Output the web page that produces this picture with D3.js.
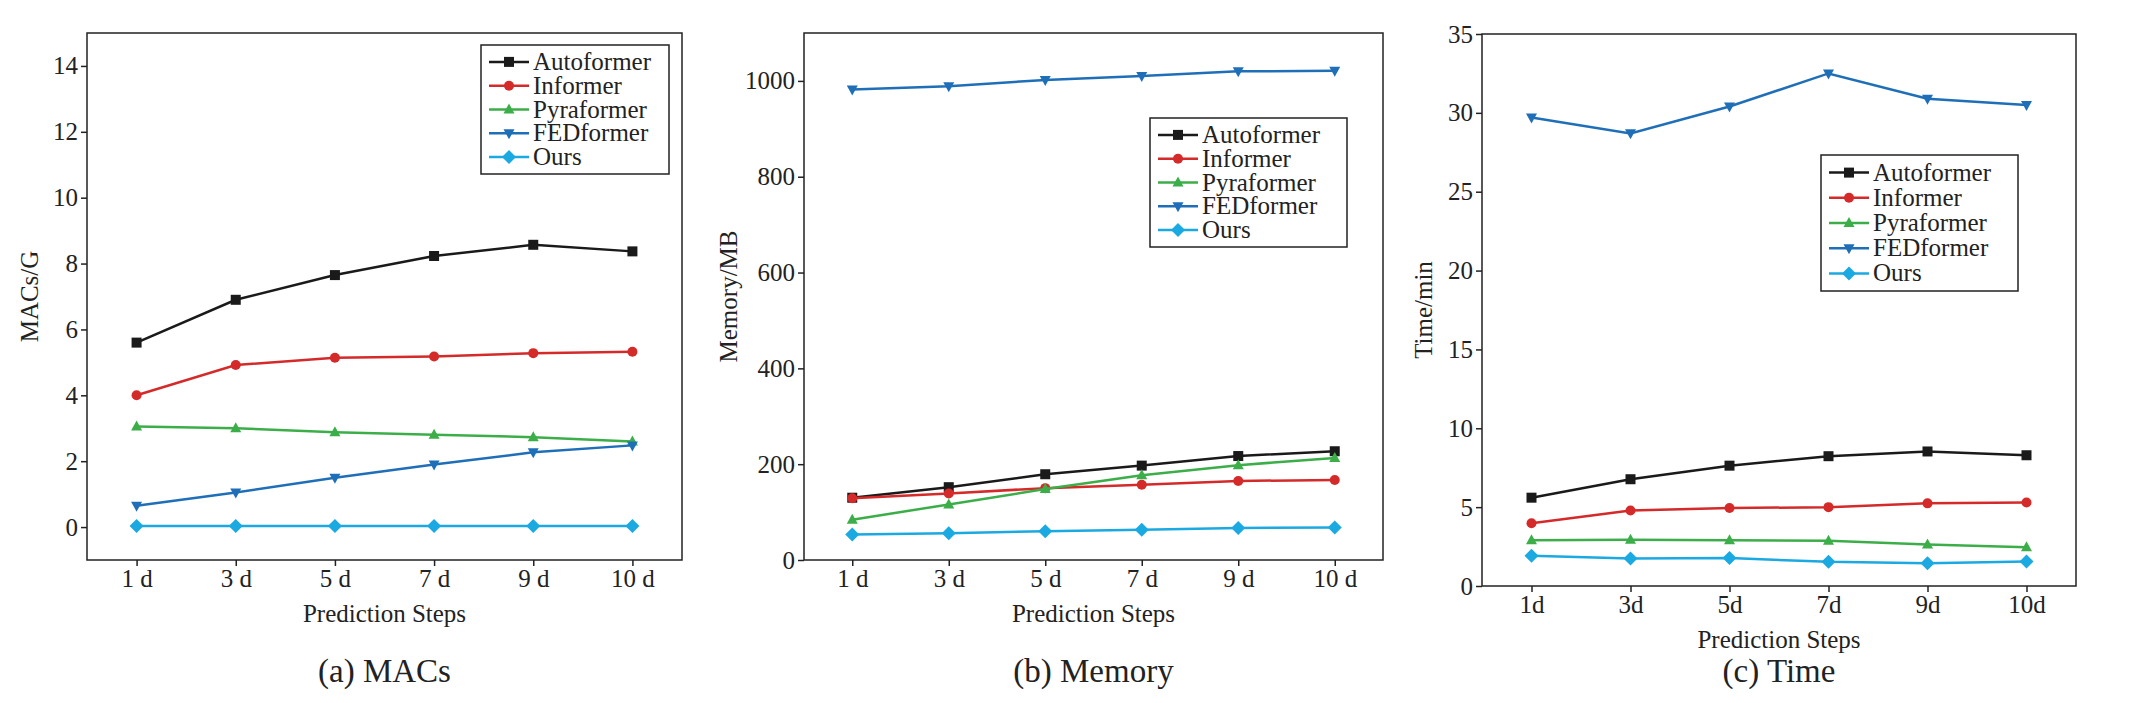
<!DOCTYPE html>
<html><head><meta charset="utf-8">
<script src="https://cdn.jsdelivr.net/npm/d3@7"></script>
<style>body{margin:0;background:#fff}svg,svg text{font-family:"Liberation Serif","Times New Roman",serif}</style>
</head><body><svg id="c" width="2136" height="703"></svg>
<script>
const seriesNames = ["Autoformer","Informer","Pyraformer","FEDformer","Ours"];
const colors = ["#1a1a1a","#d42a2a","#3cae49","#1f6fb8","#1ba9e1"];
const markers = ["square","circle","up","down","diamond"];
const stepsA = ["1 d","3 d","5 d","7 d","9 d","10 d"];
const stepsC = ["1d","3d","5d","7d","9d","10d"];
const macsAuto=[5.6,6.9,7.65,8.23,8.57,8.37], macsInf=[4.0,4.92,5.14,5.18,5.28,5.32], macsPyra=[3.05,3.0,2.88,2.8,2.73,2.6], macsFED=[0.65,1.05,1.5,1.9,2.27,2.48], macsOurs=[0.03,0.03,0.03,0.03,0.03,0.03];
const memAuto=[130,152,179,197,217,227], memInf=[129,139,150,157,165,167], memPyra=[84,116,148,177,198,213], memFED=[982,989,1002,1010,1020,1021], memOurs=[53,56,60,63,67,68];
const timeAuto=[5.6,6.77,7.63,8.23,8.53,8.29], timeInf=[3.98,4.79,4.94,5.0,5.24,5.3], timePyra=[2.9,2.93,2.9,2.87,2.63,2.45], timeFED=[29.7,28.7,30.4,32.5,30.9,30.5], timeOurs=[1.92,1.74,1.77,1.53,1.44,1.56];
const yTicksA=[0,2,4,6,8,10,12,14], yTicksB=[0,200,400,600,800,1000], yTicksC=[0,5,10,15,20,25,30,35];

const FONT='"Liberation Serif","Times New Roman",serif';
const svg=d3.select("#c");
function styleAxis(a){
  a.attr("font-family",FONT);
  a.select(".domain").remove();
  a.selectAll("text").attr("font-size",25).attr("fill","#222");
  a.selectAll("line").attr("stroke","#222").attr("stroke-width",1.5);
}
function panel(cfg){
  const g=svg.append("g");
  const x=d3.scalePoint().domain(cfg.cats).range([cfg.l,cfg.r]).padding(0.5);
  const y=d3.scaleLinear().domain(cfg.dom).range([cfg.b,cfg.t]);
  g.append("g").attr("transform",`translate(0,${cfg.b})`).call(d3.axisBottom(x).tickSize(6).tickPadding(3)).call(styleAxis);
  g.append("g").attr("transform",`translate(${cfg.l},0)`).call(d3.axisLeft(y).tickValues(cfg.ticks).tickFormat(d3.format("d")).tickSize(6).tickPadding(3)).call(styleAxis);
  g.append("rect").attr("x",cfg.l).attr("y",cfg.t).attr("width",cfg.r-cfg.l).attr("height",cfg.b-cfg.t).attr("fill","none").attr("stroke","#222").attr("stroke-width",1.5);
  const line=d3.line().x((d,i)=>x(cfg.cats[i])).y(d=>y(d));
  cfg.data.forEach((vals,k)=>{
    g.append("path").datum(vals).attr("d",line).attr("fill","none").attr("stroke",colors[k]).attr("stroke-width",2.5);
    vals.forEach((v,i)=>drawMarker(g,x(cfg.cats[i]),y(v),k));
  });
  const L=cfg.leg, lg=g.append("g");
  lg.append("rect").attr("x",L[0]).attr("y",L[1]).attr("width",L[2]).attr("height",L[3]).attr("fill","#fff").attr("stroke","#222").attr("stroke-width",1.5);
  const rowH=(L[3]-10)/5;
  seriesNames.forEach((n,k)=>{
    const cy=L[1]+5+rowH*(k+0.5);
    lg.append("line").attr("x1",L[0]+8).attr("x2",L[0]+48).attr("y1",cy).attr("y2",cy).attr("stroke",colors[k]).attr("stroke-width",2.5);
    drawMarker(lg,L[0]+28,cy,k);
    lg.append("text").attr("x",L[0]+52).attr("y",cy+8).attr("font-size",25).attr("fill","#222").text(n);
  });
  g.append("text").attr("x",(cfg.l+cfg.r)/2).attr("y",cfg.b+62).attr("text-anchor","middle").attr("font-size",25).attr("fill","#222").text("Prediction Steps");
  g.append("text").attr("transform",`translate(${cfg.yl},${(cfg.t+cfg.b)/2}) rotate(-90)`).attr("text-anchor","middle").attr("font-size",25).attr("fill","#222").text(cfg.ylab);
  g.append("text").attr("x",(cfg.l+cfg.r)/2).attr("y",682).attr("text-anchor","middle").attr("font-size",33).attr("fill","#222").text(cfg.title);
}
function drawMarker(g,cx,cy,k){
  const m=markers[k], c=colors[k];
  const t=g.append("g").attr("transform",`translate(${cx},${cy})`);
  if(m==="square") t.append("rect").attr("x",-5).attr("y",-5).attr("width",10).attr("height",10).attr("fill",c);
  else if(m==="circle") t.append("circle").attr("r",5).attr("fill",c);
  else if(m==="up") t.append("path").attr("d","M0,-6L5.5,4L-5.5,4Z").attr("fill",c);
  else if(m==="down") t.append("path").attr("d","M0,6L5.5,-4L-5.5,-4Z").attr("fill",c);
  else t.append("path").attr("d","M0,-7L7,0L0,7L-7,0Z").attr("fill",c);
}
panel({cats:stepsA,l:87,r:682,t:33,b:560,dom:[-1,15],ticks:yTicksA,data:[macsAuto,macsInf,macsPyra,macsFED,macsOurs],leg:[481,45,188,129],ylab:"MACs/G",yl:38,title:"(a) MACs"});
panel({cats:stepsA,l:804,r:1383,t:33,b:560,dom:[0,1100],ticks:yTicksB,data:[memAuto,memInf,memPyra,memFED,memOurs],leg:[1150,118,197,129],ylab:"Memory/MB",yl:737,title:"(b) Memory"});
panel({cats:stepsC,l:1482,r:2076,t:34,b:586,dom:[0,35],ticks:yTicksC,data:[timeAuto,timeInf,timePyra,timeFED,timeOurs],leg:[1821,155,197,136],ylab:"Time/min",yl:1432,title:"(c) Time"});
</script></body></html>
